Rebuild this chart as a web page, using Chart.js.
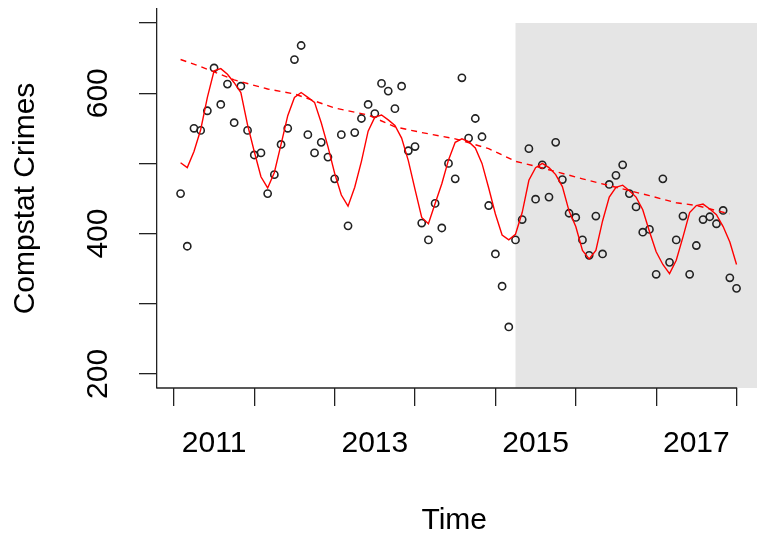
<!DOCTYPE html>
<html>
<head>
<meta charset="utf-8">
<script src="https://cdn.jsdelivr.net/npm/chart.js@4"></script>
<style>
  html, body { margin: 0; padding: 0; background: #fff; }
  canvas { display: block; }
</style>
</head>
<body>
<canvas id="crimes" width="757" height="539"></canvas>
<script>
// monthly series, first value is Feb 2011
const startYear = 2011
const crimes = [
  457, 382, 550, 547, 575, 636, 584, 613, 558, 610, 547, 512,
  515, 457, 484, 527, 550, 648, 668, 541, 515, 530, 509, 478,
  541, 411, 544, 564, 584, 571, 614, 603, 578, 610, 518, 524,
  415, 391, 443, 408, 500, 478, 622, 536, 564, 538, 440, 371,
  325, 267, 391, 420, 521, 449, 498, 452, 530, 477, 429, 423,
  391, 369, 425, 371, 470, 483, 498, 457, 438, 402, 406, 342,
  478, 359, 391, 425, 342, 383, 420, 424, 414, 433, 337, 322,
]
const fitted = [
  501, 494, 517, 548, 594, 632, 635, 627, 615, 601, 555, 517,
  481, 465, 487, 527, 568, 594, 601, 594, 587, 558, 524, 486,
  455, 439, 466, 503, 546, 566, 569, 562, 554, 536, 504, 463,
  423, 414, 443, 471, 505, 530, 535, 531, 522, 500, 465, 428,
  398, 391, 399, 430, 476, 494, 500, 494, 484, 467, 432, 410,
  376, 364, 376, 418, 452, 466, 469, 461, 452, 434, 403, 374,
  356, 343, 362, 395, 430, 440, 442, 435, 427, 410, 388, 356,
]
// trend line, read at these month indexes
const trendMonths = [0, 3, 8, 13, 17, 23, 28, 32, 36, 41, 46, 50, 53, 55, 60, 65, 70, 74, 77, 82]
const trendValues = [648, 638, 619, 606, 599, 579, 569, 552, 544, 535, 521, 503, 496, 491, 478, 466, 454, 444, 440, 428]

const xTickValues = [2011.5, 2012.5, 2013.5, 2014.5, 2015.5, 2016.5, 2017.5]
const xTickLabels = ['2011', '', '2013', '', '2015', '', '2017']
const yTickValues = [200, 300, 400, 500, 600, 700]
const yTickLabels = ['200', '', '400', '', '600', '']
const shadeStart = 2015.25
const shadeTop = 700
const axisEnd = 2018

const monthToTime = i => startYear + (i + 1) / 12
const time = crimes.map((_, i) => monthToTime(i))

Chart.defaults.font.family = '"Liberation Sans", Arial, sans-serif'
Chart.defaults.color = '#000'

const axisColor = '#222'

// grey block behind the later part, plus the bottom axis line up to the last tick
const backdrop = {
  id: 'backdrop',
  beforeDraw: chart => {
    const { ctx, chartArea, scales } = chart
    const x0 = scales.x.getPixelForValue(shadeStart)
    const y0 = scales.y.getPixelForValue(shadeTop)
    ctx.save()
    ctx.fillStyle = '#e5e5e5'
    ctx.fillRect(x0, y0, chart.width - x0, chartArea.bottom - y0)
    ctx.restore()
  },
  beforeDatasetsDraw: chart => {
    const { ctx, chartArea, scales } = chart
    ctx.save()
    ctx.strokeStyle = axisColor
    ctx.lineWidth = 1.3
    ctx.beginPath()
    ctx.moveTo(chartArea.left - 0.6, chartArea.bottom)
    ctx.lineTo(scales.x.getPixelForValue(axisEnd) + 0.6, chartArea.bottom)
    ctx.stroke()
    ctx.restore()
  },
}

const ctx = document.getElementById('crimes').getContext('2d')
const crimesChart = new Chart(ctx, {
  type: 'scatter',
  data: {
    datasets: [
      {
        label: 'Trend',
        data: trendMonths.map((m, i) => ({ x: monthToTime(m), y: trendValues[i] })),
        showLine: true,
        borderColor: '#ff0000',
        borderWidth: 1.4,
        borderDash: [6, 5],
        pointRadius: 0,
        tension: 0,
      },
      {
        label: 'Fitted',
        data: fitted.map((v, i) => ({ x: time[i], y: v })),
        showLine: true,
        borderColor: '#ff0000',
        borderWidth: 1.4,
        pointRadius: 0,
        tension: 0,
      },
      {
        label: 'Compstat Crimes',
        data: crimes.map((v, i) => ({ x: time[i], y: v })),
        showLine: false,
        pointRadius: 3.6,
        pointBorderWidth: 1.6,
        pointBorderColor: '#222',
        pointBackgroundColor: 'rgba(0,0,0,0)',
      },
    ],
  },
  options: {
    responsive: false,
    devicePixelRatio: 1,
    animation: false,
    layout: { padding: { top: 9, left: 0, right: 0, bottom: 0 } },
    plugins: {
      legend: { display: false },
      tooltip: { enabled: false },
    },
    scales: {
      x: {
        type: 'linear',
        min: 2010.79,
        max: 2018.185,
        afterBuildTicks: scale => {
          scale.ticks = xTickValues.map(v => ({ value: v }))
        },
        afterFit: scale => {
          scale.height = 151
          scale.paddingLeft = 0
          scale.paddingRight = 0
        },
        grid: {
          offset: true,
          drawOnChartArea: false,
          tickLength: 18,
          color: axisColor,
          lineWidth: 1.3,
        },
        border: { display: false },
        ticks: {
          autoSkip: false,
          maxRotation: 0,
          minRotation: 0,
          padding: 20,
          font: { size: 30 },
          callback: (value, index) => xTickLabels[index],
        },
        title: {
          display: true,
          text: 'Time',
          font: { size: 30 },
          padding: { top: 0, bottom: 0 },
        },
      },
      y: {
        min: 180,
        max: 720,
        afterBuildTicks: scale => {
          scale.ticks = yTickValues.map(v => ({ value: v }))
        },
        afterFit: scale => {
          scale.width = 157
          scale.paddingTop = 0
          scale.paddingBottom = 0
        },
        grid: {
          drawOnChartArea: false,
          tickLength: 18,
          color: axisColor,
          lineWidth: 1.3,
        },
        border: { display: true, color: axisColor, width: 1.3 },
        ticks: {
          autoSkip: false,
          minRotation: 90,
          maxRotation: 90,
          crossAlign: 'center',
          padding: 15,
          font: { size: 30 },
          callback: (value, index) => yTickLabels[index],
        },
        title: {
          display: true,
          text: 'Compstat Crimes',
          font: { size: 30 },
          padding: { top: 8, bottom: 0 },
        },
      },
    },
  },
  plugins: [backdrop],
})
</script>
</body>
</html>
